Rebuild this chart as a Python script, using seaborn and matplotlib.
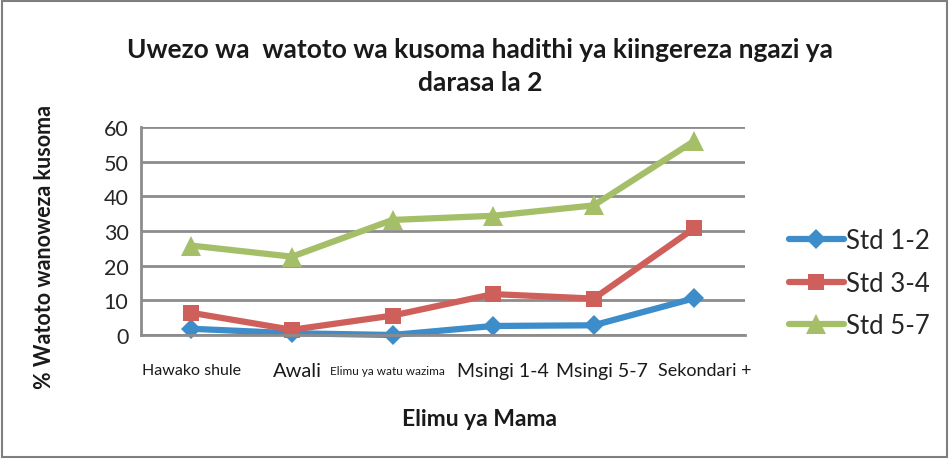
import matplotlib
matplotlib.use("Agg")
import matplotlib.pyplot as plt
import seaborn as sns
import pandas as pd
from matplotlib.patches import Rectangle

categories = ["Hawako shule", "Awali", "Elimu ya watu wazima", "Msingi 1-4", "Msingi 5-7", "Sekondari +"]
std_1_2 = [1.8, 0.5, 0.0, 2.6, 2.8, 10.6]
std_3_4 = [6.4, 1.5, 5.6, 11.8, 10.5, 30.8]
std_5_7 = [25.8, 22.6, 33.2, 34.4, 37.4, 56.0]
series_names = ["Std 1-2", "Std 3-4", "Std 5-7"]

rows = []
for name, vals in zip(series_names, [std_1_2, std_3_4, std_5_7]):
    for i, v in enumerate(vals):
        rows.append({"pos": i, "val": v, "series": name})
df = pd.DataFrame(rows)

sns.set_style("white")
plt.rcParams["font.family"] = ["Lato", "DejaVu Sans"]

fig = plt.figure(figsize=(9.49, 4.6), dpi=100)
ax = fig.add_axes([0.1486, 0.2696, 0.636, 0.452])

palette = {"Std 1-2": "#3c8dca", "Std 3-4": "#cf5f5b", "Std 5-7": "#a5bf69"}
markers = {"Std 1-2": "D", "Std 3-4": "s", "Std 5-7": "^"}
sizes = {"Std 1-2": 10, "Std 3-4": 12, "Std 5-7": 14}
for name in series_names:
    sub = df[df["series"] == name]
    sns.lineplot(data=sub, x="pos", y="val", ax=ax, color=palette[name], marker=markers[name],
                 markersize=sizes[name], linewidth=4.5, markeredgewidth=0, label=name, clip_on=False)

ax.set_xlim(-0.5, 5.5)
ax.set_ylim(0, 60)
ax.set_yticks(range(0, 61, 10))
ax.set_xlabel("")
ax.set_ylabel("")
ax.yaxis.grid(True, color="#8c8c8c", linewidth=2)
ax.set_axisbelow(True)
for s in ["top", "right"]:
    ax.spines[s].set_visible(False)
ax.spines["left"].set_color("#8c8c8c")
ax.spines["left"].set_linewidth(2)
ax.spines["bottom"].set_color("#8c8c8c")
ax.spines["bottom"].set_linewidth(2)

ax.set_xticks(range(len(categories)))
ax.set_xticklabels([])
ax.set_xticks([x - 0.5 for x in range(len(categories) + 1)], minor=True)
ax.tick_params(axis="x", which="major", length=0)
ax.tick_params(axis="x", which="minor", length=5, width=1.5, color="#8c8c8c", direction="out")
ax.tick_params(axis="y", length=5, width=1.5, color="#8c8c8c", labelsize=15.5, pad=4)

label_sizes = [11.5, 14.5, 8.5, 14, 14, 13]
label_shift = [0, 0.05, -0.05, 0.1, 0.08, 0.1]
for i, (lab, fs) in enumerate(zip(categories, label_sizes)):
    fam = ["Liberation Sans Narrow", "Lato"] if i in (0, 2) else ["Lato"]
    ax.text(i + label_shift[i], -10.2, lab, ha="center", va="center", fontsize=fs, color="#1a1a1a",
            family=fam)

fig.text(0.505, 1 - 420 / 460, "Elimu ya Mama", ha="center", va="center", fontsize=16.5,
         fontweight="bold", color="#1a1a1a")
fig.text(0.047, 1 - 247 / 460, "% Watoto wanoweza kusoma", ha="center", va="center", rotation=90,
         fontsize=15.5, fontweight="bold", color="#1a1a1a")
fig.text(0.506, 1 - 67 / 460, "Uwezo wa  watoto wa kusoma hadithi ya kiingereza ngazi ya\ndarasa la 2",
         ha="center", va="center", fontsize=19, fontweight="bold", linespacing=1.45, color="#1a1a1a")

leg = ax.legend(loc="center left", bbox_to_anchor=(1.073, 0.25), frameon=False, fontsize=18.5,
                handlelength=2.15, labelspacing=0.68, handletextpad=0.1, borderaxespad=0,
                borderpad=0)

fig.patches.append(Rectangle((0.002, 0.004), 0.996, 0.992, transform=fig.transFigure,
                             fill=False, edgecolor="#7f7f7f", linewidth=1.5))

fig.savefig("out.png", dpi=100)
